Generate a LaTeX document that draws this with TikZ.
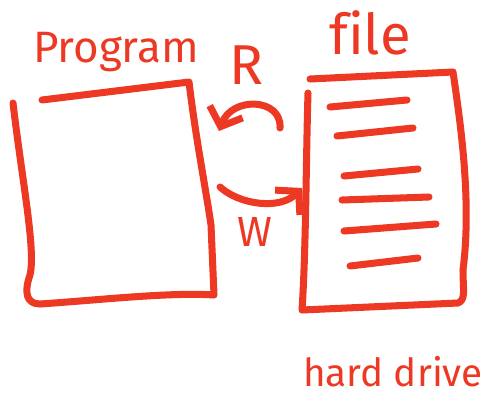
\documentclass[tikz,border=0pt]{standalone}
\usepackage{fontspec}
\setmainfont{Fira Sans}[Ligatures=NoCommon]
\usetikzlibrary{arrows.meta}
\definecolor{inkred}{RGB}{237,56,36}

\begin{document}
\begin{tikzpicture}[x=0.02cm, y=-0.02cm,
  pen/.style={draw=inkred,line width=4pt,line cap=round,line join=round},
  scrawl/.style={text=inkred,inner sep=0pt},
  rw/.style={pen,-{Straight Barb[length=9pt,width=20pt,line width=4pt]}}]
  \useasboundingbox (0,0) rectangle (483,396);
  % program
  \draw[pen] (42,100) -- (189,82) .. controls (196,140) and (206,190) .. (211,225)
    -- (214,295) .. controls (170,292) and (100,300) .. (40,304)
    .. controls (26,304) and (24,292) .. (30,275) .. controls (36,250) and (22,180) .. (13,103);
  \node[scrawl,font=\fontsize{25}{29}\selectfont] (prog) at (116,52) {Program};
  % file
  \draw[pen] (308,93) .. controls (306,160) and (306,250) .. (302,310)
    -- (458,303) .. controls (466,300) and (463,290) .. (463,270)
    .. controls (472,200) and (460,120) .. (453,72) -- (310,79);
  \foreach \xa/\ya/\xb/\yb in {330/107/407/100, 337/136/413/128, 344/176/418/169,
                              342/200/429/197, 344/231/436/224, 350/266/418/258}
    \draw[pen] (\xa,\ya) -- (\xb,\yb);
  \node[scrawl,font=\fontsize{32}{36}\selectfont] (file) at (370,33) {file};
  \node[scrawl,font=\fontsize{22}{26}\selectfont] (drive) at (393,372) {hard drive};
  % read / write
  \coordinate (rfrom) at (280,128);
  \coordinate (rto) at (219,131);
  \coordinate (wfrom) at (220,187);
  \coordinate (wto) at (302,188);
  \draw[rw] (rfrom) .. controls (282,98) and (232,96) .. (rto);
  \draw[rw] (wfrom) .. controls (240,205) and (280,210) .. (wto);
  \node[scrawl,font=\fontsize{32}{36}\selectfont] (rlab) at (247,65) {R};
  \node[scrawl,font=\fontsize{24}{28}\selectfont] (wlab) at (255,232) {W};
\end{tikzpicture}
\end{document}
